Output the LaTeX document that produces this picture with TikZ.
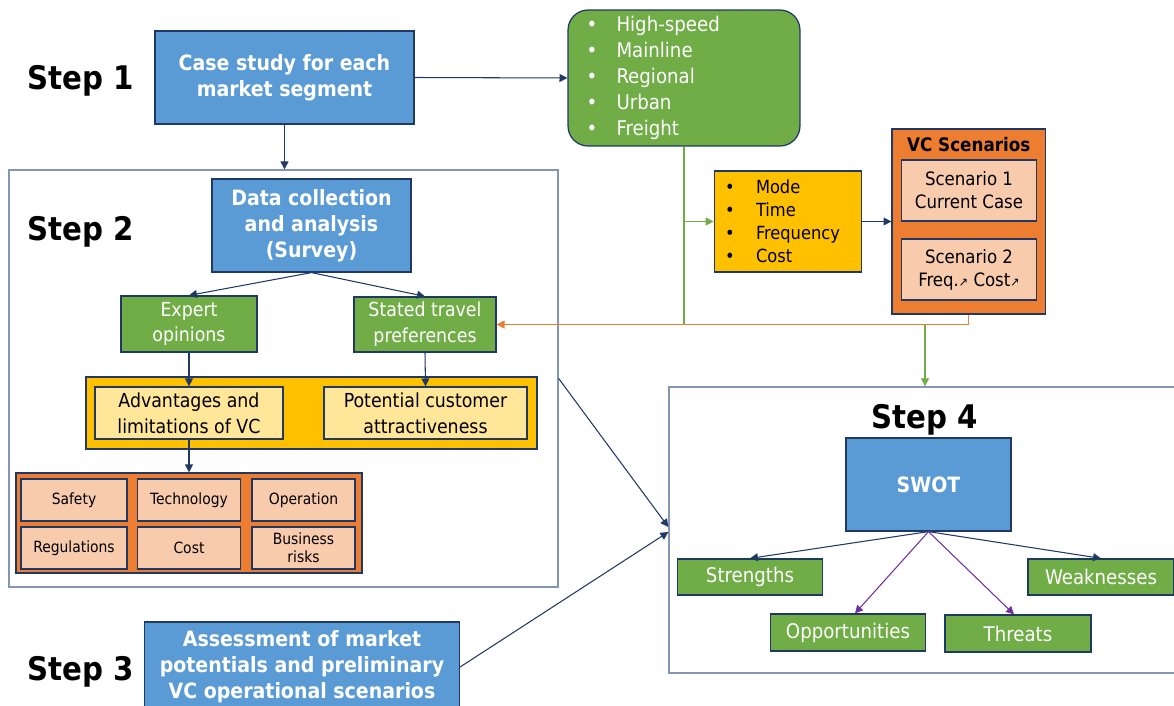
\documentclass[tikz,border=0pt]{standalone}
\usepackage{fontspec}
\setmainfont{DejaVuSansCondensed}[Extension=.ttf,BoldFont=DejaVuSansCondensed-Bold]
\usetikzlibrary{arrows.meta}

\definecolor{boxblue}{HTML}{5B9BD5}
\definecolor{navy}{HTML}{203864}
\definecolor{leaf}{HTML}{70AD47}
\definecolor{amber}{HTML}{FFC000}
\definecolor{paleamber}{HTML}{FFE699}
\definecolor{rust}{HTML}{ED7D31}
\definecolor{peach}{HTML}{F8CBAD}
\definecolor{slate}{HTML}{8497B0}
\definecolor{plum}{HTML}{7030A0}

\newcommand{\bul}[2]{\makebox[#1][l]{\textbullet}#2}
\newcommand{\uparr}{{\fontsize{7}{7}\selectfont ↗}}

\tikzset{
    boxbase/.style = {draw=navy, line width=0.7pt, inner sep=0pt, align=center},
    bluebox/.style = {boxbase, fill=boxblue, text=white, font=\bfseries\fontsize{12}{14.7}\selectfont},
    greenbox/.style = {boxbase, fill=leaf, text=white, font=\fontsize{11}{14.7}\selectfont},
    lightbox/.style = {boxbase, fill=paleamber, font=\fontsize{11}{14.7}\selectfont},
    riskbox/.style = {boxbase, fill=peach, font=\fontsize{8.8}{10.5}\selectfont, minimum height=0.84cm},
    stepframe/.style = {draw=slate, line width=0.8pt, inner sep=0pt},
    steplabel/.style = {anchor=base, font=\bfseries\fontsize{18.5}{22}\selectfont},
    link/.style = {navy, line width=0.6pt, -{Triangle[length=4.5pt,width=4.5pt]}},
}

\begin{document}
\begin{tikzpicture}[x=0.02cm, y=-0.02cm]
    \useasboundingbox (0,0) rectangle (1174,706);

    % frames of step 2 and step 4
    \node[stepframe, minimum width=10.98cm, minimum height=8.34cm] (frame2) at (283.5,378.5) {};
    \node[stepframe, minimum width=10.24cm, minimum height=5.72cm] (frame4) at (925,530) {};

    \node[steplabel] (lab1) at (81,90) {Step 1};
    \node[steplabel] (lab2) at (81,240) {Step 2};
    \node[steplabel] (lab3) at (81,680) {Step 3};
    \node[steplabel] (lab4) at (925,428) {Step 4};

    % step 1
    \node[bluebox, minimum width=5.18cm, minimum height=1.86cm] (case) at (284.5,77.5) {Case study for each\\market segment};
    \node[greenbox, rounded corners=0.4cm, minimum width=4.64cm, minimum height=2.72cm,
          text width=3.9cm, align=left, font=\fontsize{11.5}{14.7}\selectfont] (segments) at (684,78)
        {\bul{0.6cm}{High-speed}\\\bul{0.6cm}{Mainline}\\\bul{0.6cm}{Regional}\\\bul{0.6cm}{Urban}\\\bul{0.6cm}{Freight}};
    \node[boxbase, fill=amber, minimum width=2.95cm, minimum height=2.02cm, text width=2.52cm,
          align=left, font=\fontsize{10.3}{13}\selectfont] (factors) at (788,221.5)
        {\bul{0.62cm}{Mode}\\\bul{0.62cm}{Time}\\\bul{0.62cm}{Frequency}\\\bul{0.62cm}{Cost}};
    \node[boxbase, fill=rust, minimum width=3.07cm, minimum height=3.7cm] (vc) at (968.75,221.5) {};
    \node[font=\bfseries\fontsize{10.6}{13}\selectfont] (vctitle) at (968.75,145) {VC Scenarios};
    \node[boxbase, fill=peach, minimum width=2.7cm, minimum height=1.22cm, font=\fontsize{10.5}{13}\selectfont] (scen1) at (969,190.5) {Scenario 1\\Current Case};
    \node[boxbase, fill=peach, minimum width=2.7cm, minimum height=1.22cm, font=\fontsize{10.5}{13}\selectfont] (scen2) at (969,269.5) {Scenario 2\\Freq.\uparr{} Cost\uparr};

    % step 2
    \node[bluebox, minimum width=3.98cm, minimum height=1.86cm] (data) at (311.5,225.5) {Data collection\\and analysis\\(Survey)};
    \node[greenbox, minimum width=2.72cm, minimum height=1.12cm] (expert) at (189,324) {Expert\\opinions};
    \node[greenbox, minimum width=2.84cm, minimum height=1.1cm] (stated) at (425,324.5) {Stated travel\\preferences};
    \node[boxbase, fill=amber, minimum width=9.02cm, minimum height=1.44cm] (findings) at (311.5,413) {};
    \node[lightbox, minimum width=3.76cm, minimum height=1.04cm] (advant) at (189,413) {Advantages and\\limitations of VC};
    \node[lightbox, minimum width=4.06cm, minimum height=1.04cm] (potent) at (425.5,413) {Potential customer\\attractiveness};
    \node[boxbase, fill=rust, minimum width=6.92cm, minimum height=2.0cm] (risks) at (189,523) {};
    \node[riskbox, minimum width=2.12cm] (safety) at (74,500) {Safety};
    \node[riskbox, minimum width=2.06cm] (techno) at (189,500) {Technology};
    \node[riskbox, minimum width=2.06cm] (operat) at (303.5,500) {Operation};
    \node[riskbox, minimum width=2.12cm] (regul) at (74,548) {Regulations};
    \node[riskbox, minimum width=2.06cm] (cost) at (189,548) {Cost};
    \node[riskbox, minimum width=2.06cm] (busin) at (303.5,548) {Business\\risks};

    % step 3
    \node[bluebox, minimum width=6.3cm, minimum height=1.8cm] (assess) at (302,667) {Assessment of market\\potentials and preliminary\\VC operational scenarios};

    % step 4
    \node[bluebox, minimum width=3.3cm, minimum height=1.86cm] (swot) at (928.5,484.5) {SWOT};
    \node[greenbox, minimum width=2.9cm, minimum height=0.72cm, font=\fontsize{11.5}{14}\selectfont] (strong) at (750,577) {Strengths};
    \node[greenbox, minimum width=2.92cm, minimum height=0.72cm, font=\fontsize{11.5}{14}\selectfont] (weak) at (1101,577) {Weaknesses};
    \node[greenbox, minimum width=3.1cm, minimum height=0.74cm, font=\fontsize{11.5}{14}\selectfont] (opport) at (848,632.5) {Opportunities};
    \node[greenbox, minimum width=2.92cm, minimum height=0.74cm, font=\fontsize{11.5}{14}\selectfont] (threat) at (1018,633.5) {Threats};

    % connectors
    \draw[link] (case.east) -- (segments.west);
    \draw[link] (case.south) -- (case.south |- frame2.north);
    \draw[link] (data.south) -- (expert.north);
    \draw[link] (data.south) -- (stated.north);
    \draw[link] (expert.south) -- (advant.north);
    \draw[link] (stated.south) -- (potent.north);
    \draw[link] (advant.south) -- (risks.north);
    \draw[link] (factors.east) -- (vc.west);

    \coordinate (greenend) at (segments.south |- stated.east);
    \coordinate (greenstart) at (frame4.north |- stated.east);
    \draw[leaf, line width=0.6pt] (segments.south) -- (greenend);
    \draw[link, leaf] (segments.south |- factors.west) -- (factors.west);
    \draw[link, rust] (vc.south) -- (vc.south |- stated.east) -- (stated.east);
    \draw[link, leaf] (greenstart) -- (frame4.north);

    \draw[link] (frame2.east) -- ([yshift=0.06cm]frame4.west);
    \draw[link] (assess.east) -- ([yshift=-0.04cm]frame4.west);

    \draw[link] (swot.south) -- (strong.north);
    \draw[link] (swot.south) -- (weak.north);
    \draw[link, plum] (swot.south) -- ([xshift=0.14cm]opport.north);
    \draw[link, plum] (swot.south) -- ([xshift=-0.08cm]threat.north);
\end{tikzpicture}
\end{document}
